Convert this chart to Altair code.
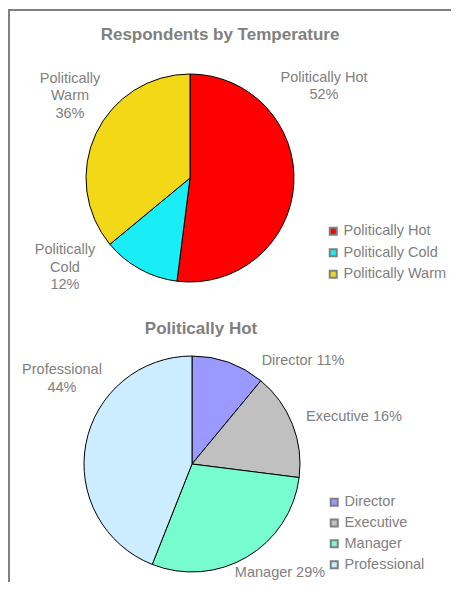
import altair as alt
import pandas as pd

# ---- data ----
top_categories = ["Politically Hot", "Politically Cold", "Politically Warm"]
top_values = [52, 12, 36]
top_colors = ["#FF0000", "#19EEF6", "#F2D816"]

hot_categories = ["Director", "Executive", "Manager", "Professional"]
hot_values = [11, 16, 29, 44]
hot_colors = ["#9999FF", "#C0C0C0", "#77FCCF", "#CCECFF"]

top_label_text = ["Politically Hot\n52%", "Politically\nCold\n12%", "Politically\nWarm\n36%"]
hot_label_text = ["Director 11%", "Executive 16%", "Manager 29%", "Professional\n44%"]

# ---- layout (pixels inside the chart) ----
W, H = 443, 574
GRAY = "#808080"
FONT = "Liberation Sans"
top_center = (182, 170)
top_radius = 104
hot_center = (184, 456)
hot_radius = 108
top_label_pos = {"Politically Hot": (316, 69.5), "Politically Cold": (57, 242), "Politically Warm": (62, 70.5)}
hot_label_pos = {"Director": (295, 353), "Executive": (346, 409), "Manager": (272, 565), "Professional": (54, 362)}

top_df = pd.DataFrame({"category": top_categories, "value": top_values,
                       "order": list(range(len(top_categories))),
                       "label": top_label_text})
top_df["lx"] = [top_label_pos[c][0] for c in top_categories]
top_df["ly"] = [top_label_pos[c][1] for c in top_categories]

hot_df = pd.DataFrame({"category": hot_categories, "value": hot_values,
                       "order": list(range(len(hot_categories))),
                       "label": hot_label_text})
hot_df["lx"] = [hot_label_pos[c][0] for c in hot_categories]
hot_df["ly"] = [hot_label_pos[c][1] for c in hot_categories]

legend_common = dict(
    orient="none", title=None, symbolType="square", symbolSize=49,
    symbolStrokeColor=GRAY, symbolStrokeWidth=2, labelFont=FONT,
    labelFontSize=14.5, labelColor=GRAY, labelOffset=3, padding=0,
)

top_pie = alt.Chart(top_df).mark_arc(radius=top_radius, stroke="black", strokeWidth=1).encode(
    theta=alt.Theta("value:Q", stack=True),
    order=alt.Order("order:Q"),
    color=alt.Color("category:N",
                    scale=alt.Scale(domain=top_categories, range=top_colors),
                    legend=alt.Legend(legendX=318, legendY=216, rowPadding=5.5, **legend_common)),
    x=alt.value(top_center[0]), y=alt.value(top_center[1]),
)

hot_pie = alt.Chart(hot_df).mark_arc(radius=hot_radius, stroke="black", strokeWidth=1).encode(
    theta=alt.Theta("value:Q", stack=True),
    order=alt.Order("order:Q"),
    color=alt.Color("category:N",
                    scale=alt.Scale(domain=hot_categories, range=hot_colors),
                    legend=alt.Legend(legendX=319, legendY=487, rowPadding=4.8, **legend_common)),
    x=alt.value(hot_center[0]), y=alt.value(hot_center[1]),
)

def labels(df):
    return alt.Chart(df).mark_text(font=FONT, fontSize=14.5, color=GRAY, align="center",
                                   baseline="middle", lineBreak="\n", lineHeight=17.5).encode(
        x=alt.X("lx:Q", scale=None), y=alt.Y("ly:Q", scale=None), text="label:N")

titles_df = pd.DataFrame({"t": ["Respondents by Temperature", "Politically Hot"],
                          "tx": [212, 193], "ty": [27, 321]})
titles = alt.Chart(titles_df).mark_text(font=FONT, fontSize=17, fontWeight="bold", color=GRAY,
                                        align="center", baseline="middle").encode(
    x=alt.X("tx:Q", scale=None), y=alt.Y("ty:Q", scale=None), text="t:N")

frame_df = pd.DataFrame({"k": [0]})
frame_top = alt.Chart(frame_df).mark_rule(color=GRAY, strokeWidth=2).encode(
    x=alt.value(0), x2=alt.value(W), y=alt.value(2))
frame_left = alt.Chart(frame_df).mark_rule(color=GRAY, strokeWidth=2).encode(
    x=alt.value(1), y=alt.value(1), y2=alt.value(H))

chart = alt.layer(
    frame_top, frame_left, top_pie, hot_pie, labels(top_df), labels(hot_df), titles
).resolve_scale(color="independent").properties(
    width=W, height=H, autosize=alt.AutoSizeParams(type="none"), padding=0,
    background="white",
).configure_view(stroke=None)

chart.save("out.html", embed_options={"renderer": "svg", "actions": False})
